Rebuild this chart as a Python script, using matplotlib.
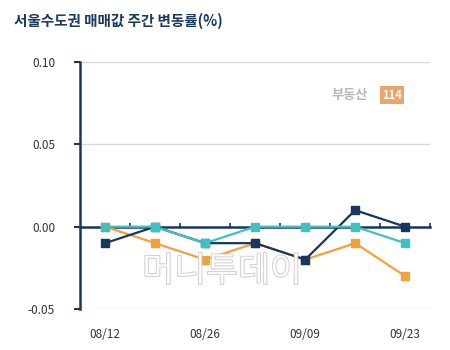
import numpy as np
import matplotlib.pyplot as plt
import matplotlib.patheffects as pe

plt.rcParams['font.family'] = ['Noto Sans CJK KR', 'DejaVu Sans']

weeks = ['08/12', '08/19', '08/26', '09/02', '09/09', '09/16', '09/23']
seoul = [-0.01, 0.00, -0.01, -0.01, -0.02, 0.01, 0.00]
gyeonggi = [0.00, -0.01, -0.02, -0.01, -0.02, -0.01, -0.03]
incheon = [0.00, 0.00, -0.01, 0.00, 0.00, 0.00, -0.01]
yticks = [-0.05, 0.00, 0.05, 0.10]

navy = '#17375e'
orange = '#f2a23a'
cyan = '#3fc1c0'

fig = plt.figure(figsize=(4.5, 3.5), dpi=100)
ax = fig.add_axes([0.178, 0.117, 0.778, 0.706])
x = np.arange(len(weeks))

ax.plot(x, gyeonggi, color=orange, lw=1.6, marker='s', ms=6, zorder=3)
ax.plot(x, seoul, color=navy, lw=1.6, marker='s', ms=6, zorder=4)
ax.plot(x, incheon, color=cyan, lw=1.6, marker='s', ms=6, zorder=5)

ax.set_xlim(-0.5, len(weeks) - 0.5)
ax.set_ylim(yticks[0], yticks[-1])

# horizontal guides except at zero, where the axis itself sits
for v in yticks:
    if v != 0:
        ax.axhline(v, color='#d9d9d9', lw=1, zorder=1)

ax.spines['top'].set_visible(False)
ax.spines['right'].set_visible(False)
ax.spines['left'].set_color(navy)
ax.spines['left'].set_linewidth(1.8)
ax.spines['bottom'].set_position(('data', 0))
ax.spines['bottom'].set_color(navy)
ax.spines['bottom'].set_linewidth(1.8)
ax.spines['bottom'].set_zorder(2)

ax.set_yticks(yticks)
ax.set_yticklabels([f'{v:.2f}' for v in yticks])
ax.tick_params(axis='y', direction='out', length=4, width=1.5, color=navy,
               labelsize=8.5, labelcolor='#333333', pad=14)

# tick marks on category boundaries, labels every other week at the bottom
ax.set_xticks(np.arange(len(weeks)) + 0.5)
ax.set_xticklabels([])
ax.tick_params(axis='x', direction='in', length=3, width=1.2, color=navy)
for i in range(0, len(weeks), 2):
    ax.text(i, -0.075, weeks[i], transform=ax.get_xaxis_transform(),
            ha='center', va='top', fontsize=8.5, color='#333333')

fig.text(0.03, 0.94, '서울수도권 매매값 주간 변동률(%)', fontsize=10.5,
         fontweight='bold', color='#1c3a5e', ha='left', va='center')

# watermarks
ax.text(0.77, 0.866, '부동산', transform=ax.transAxes, fontsize=9.5,
        fontweight='bold', color='#b8b8b8', ha='center', va='center')
ax.text(0.89, 0.866, '114', transform=ax.transAxes, fontsize=8,
        fontweight='bold', color='white', ha='center', va='center',
        bbox=dict(boxstyle='square,pad=0.2', fc='#eba56a', ec='none'))
ax.text(0.406, 0.15, '머니투데이', transform=ax.transAxes, fontsize=25,
        color='white', ha='center', va='center', zorder=6, alpha=0.85,
        path_effects=[pe.withStroke(linewidth=1.2, foreground='#c4c4c4')])

fig.savefig('out.png', dpi=100, facecolor='white')
